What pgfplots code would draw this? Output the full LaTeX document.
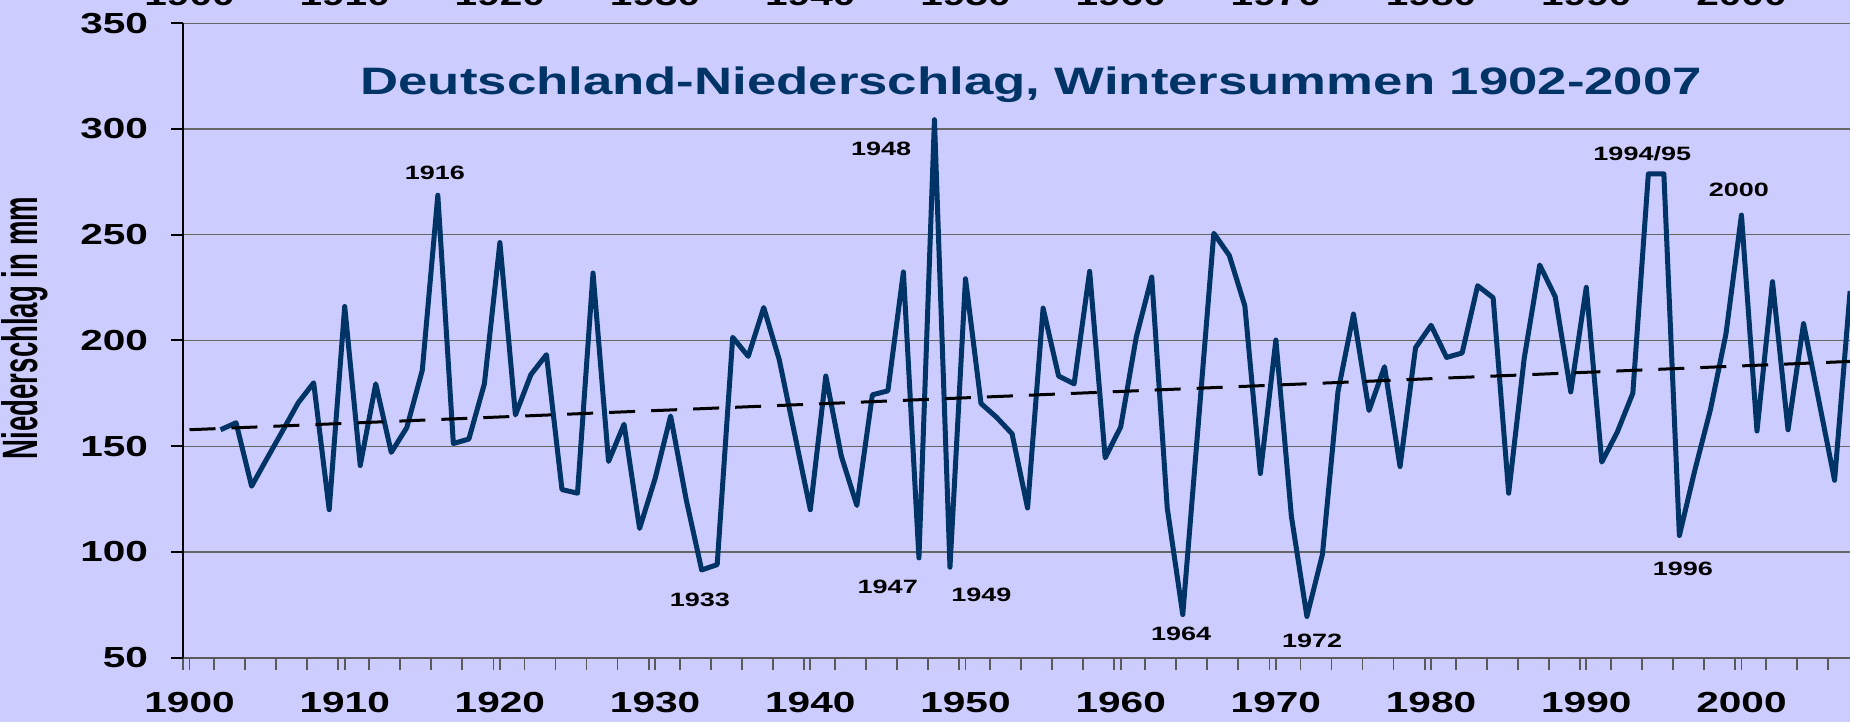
\documentclass[border=0pt]{standalone}
\usepackage{fontspec}
\setmainfont{Liberation Sans}
\usepackage{pgfplots}
\pgfplotsset{compat=1.18}
\definecolor{bg}{HTML}{CCCCFF}
\definecolor{navy}{HTML}{003366}
\pgfplotstableread{
year value
1902 157.8
1903 161.1
1904 131.1
1905 144.3
1906 157.3
1907 170.5
1908 180.0
1909 120.0
1910 216.1
1911 140.9
1912 179.5
1913 147.1
1914 158.8
1915 186.0
1916 268.7
1917 151.3
1918 153.4
1919 179.5
1920 246.3
1921 164.8
1922 183.9
1923 193.3
1924 129.5
1925 127.8
1926 231.9
1927 142.8
1928 160.4
1929 111.1
1930 134.7
1931 164.3
1932 124.9
1933 91.5
1934 94.0
1935 201.5
1936 192.5
1937 215.6
1938 190.9
1939 155.5
1940 120.0
1941 183.2
1942 145.3
1943 122.0
1944 174.3
1945 176.2
1946 232.4
1947 97.2
1948 304.4
1949 92.8
1950 229.2
1951 170.2
1952 163.7
1953 155.9
1954 120.8
1955 215.3
1956 183.2
1957 179.5
1958 232.7
1959 144.5
1960 159.1
1961 201.5
1962 230.0
1963 120.8
1964 70.4
1965 160.4
1966 250.7
1967 240.2
1968 216.4
1969 137.1
1970 200.2
1971 116.8
1972 69.5
1973 98.9
1974 175.7
1975 212.5
1976 166.9
1977 187.6
1978 140.4
1979 196.6
1980 207.2
1981 192.0
1982 194.1
1983 225.9
1984 220.2
1985 127.8
1986 191.5
1987 235.7
1988 220.7
1989 175.7
1990 225.1
1991 142.5
1992 156.7
1993 175.1
1994 278.8
1995 278.8
1996 107.8
1997 138.8
1998 167.3
1999 203.1
2000 259.3
2001 157.2
2002 227.8
2003 157.8
2004 208.0
2005 171.0
2006 133.9
2007 223.4
}\datatable
\newcommand{\tickfont}{\bfseries\fontsize{14.5}{14.5}\selectfont}
\newcommand{\annfont}{\bfseries\fontsize{9.65}{10}\selectfont}
\begin{document}
\begin{tikzpicture}
\fill[bg] (0,0) rectangle (925pt,361pt);
\begin{axis}[
  at={(91.5pt,32.15pt)}, anchor=south west,
  scale only axis, width=841.3pt, height=317.2pt,
  xmin=1899.58, xmax=2008, ymin=50, ymax=350,
  clip=false,
  axis x line*=bottom, axis y line*=left,
  x axis line style={draw=black!65, line width=1pt, -},
  y axis line style={draw=black, line width=1pt, -},
  tick align=outside,
  major tick length=6pt,
  xtick={1899.58,1901.58,...,2007.6},
  xticklabels={},
  xtick style={draw=black!65, line width=0.9pt},
  extra x ticks={1900,1910,1920,1930,1940,1950,1960,1970,1980,1990,2000},
  extra x tick labels={1900,1910,1920,1930,1940,1950,1960,1970,1980,1990,2000},
  extra x tick style={grid=none, tick style={draw=none}},
  x tick label style={font=\tickfont, xscale=1.4, inner sep=0pt, yshift=-11pt},
  ytick={50,100,...,350},
  ytick style={draw=black, line width=1pt},
  y tick label style={font=\tickfont, xscale=1.4, inner sep=0pt, xshift=-8pt},
  /pgf/number format/1000 sep={},
  /pgf/number format/assume math mode=true,
  ymajorgrids,
  y grid style={draw=black!60, line width=0.7pt},
]
\addplot[navy, line width=2.5pt, line join=round, mark=none] table[x=year, y=value] {\datatable};
\addplot[black, line width=1.5pt, dash pattern=on 13pt off 8pt, mark=none] coordinates {(1900,157.8) (2007,190.1)};
% title
\node[anchor=base, font=\bfseries\fontsize{19.1}{20}\selectfont, text=navy, xscale=1.38] at (axis cs:1954.24,316.1) {Deutschland-Niederschlag, Wintersummen 1902-2007};
% annotations
\node[font=\annfont, xscale=1.4] at (axis cs:1915.81,279.5) {1916};
\node[font=\annfont, xscale=1.4] at (axis cs:1944.57,290.6) {1948};
\node[font=\annfont, xscale=1.4] at (axis cs:1932.89,77.3) {1933};
\node[font=\annfont, xscale=1.4] at (axis cs:1944.99,83.7) {1947};
\node[font=\annfont, xscale=1.4] at (axis cs:1951.02,79.6) {1949};
\node[font=\annfont, xscale=1.4] at (axis cs:1963.90,61.2) {1964};
\node[font=\annfont, xscale=1.4] at (axis cs:1972.34,57.9) {1972};
\node[font=\annfont, xscale=1.4] at (axis cs:1996.22,91.9) {1996};
\node[font=\annfont, xscale=1.4] at (axis cs:1993.61,288.2) {1994/95};
\node[font=\annfont, xscale=1.4] at (axis cs:1999.83,271.0) {2000};
% y label
\node[rotate=90, yscale=1.8, font=\bfseries\fontsize{13.8}{14}\selectfont] at (axis cs:1889.4,205.9) {Niederschlag in mm};
% cut-off top labels
\node[anchor=base, font=\tickfont, xscale=1.4] at (axis cs:1900,358.2) {1900};
\node[anchor=base, font=\tickfont, xscale=1.4] at (axis cs:1910,358.2) {1910};
\node[anchor=base, font=\tickfont, xscale=1.4] at (axis cs:1920,358.2) {1920};
\node[anchor=base, font=\tickfont, xscale=1.4] at (axis cs:1930,358.2) {1930};
\node[anchor=base, font=\tickfont, xscale=1.4] at (axis cs:1940,358.2) {1940};
\node[anchor=base, font=\tickfont, xscale=1.4] at (axis cs:1950,358.2) {1950};
\node[anchor=base, font=\tickfont, xscale=1.4] at (axis cs:1960,358.2) {1960};
\node[anchor=base, font=\tickfont, xscale=1.4] at (axis cs:1970,358.2) {1970};
\node[anchor=base, font=\tickfont, xscale=1.4] at (axis cs:1980,358.2) {1980};
\node[anchor=base, font=\tickfont, xscale=1.4] at (axis cs:1990,358.2) {1990};
\node[anchor=base, font=\tickfont, xscale=1.4] at (axis cs:2000,358.2) {2000};
\end{axis}
\pgfresetboundingbox
\path[use as bounding box] (0,0) rectangle (925pt,361pt);
\end{tikzpicture}
\end{document}
